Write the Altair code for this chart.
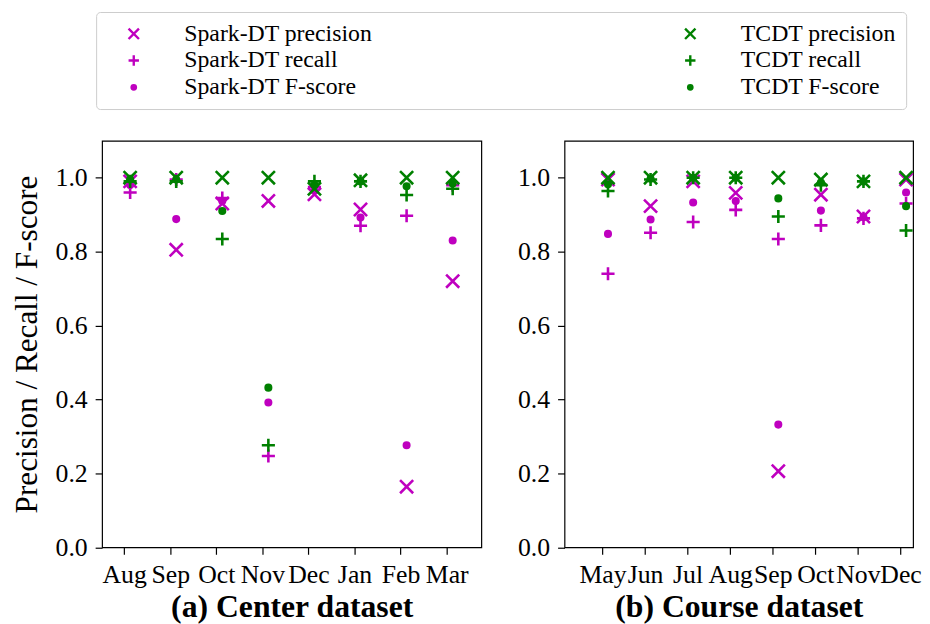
import json
import altair as alt
import pandas as pd

# ---------------- data ----------------
center_months = ["Aug", "Sep", "Oct", "Nov", "Dec", "Jan", "Feb", "Mar"]
center_spark_precision = [0.99, 0.805, 0.93, 0.937, 0.955, 0.914, 0.164, 0.72]
center_spark_recall = [0.96, 0.995, 0.945, 0.247, 0.975, 0.87, 0.897, 0.98]
center_spark_fscore = [0.98, 0.888, 0.937, 0.392, 0.965, 0.892, 0.276, 0.83]
center_tcdt_precision = [1.0, 1.0, 1.0, 1.0, 0.97, 0.993, 1.0, 1.0]
center_tcdt_recall = [0.99, 0.99, 0.834, 0.276, 0.99, 0.99, 0.953, 0.97]
center_tcdt_fscore = [0.995, 0.995, 0.91, 0.432, 0.98, 0.99, 0.977, 0.984]

course_months = ["May", "Jun", "Jul", "Aug", "Sep", "Oct", "Nov", "Dec"]
course_spark_precision = [0.995, 0.923, 0.99, 0.959, 0.206, 0.954, 0.895, 0.995]
course_spark_recall = [0.74, 0.851, 0.88, 0.913, 0.834, 0.871, 0.89, 0.93]
course_spark_fscore = [0.848, 0.887, 0.933, 0.937, 0.332, 0.911, 0.893, 0.96]
course_tcdt_precision = [1.0, 1.0, 1.0, 1.0, 1.0, 0.995, 0.99, 1.0]
course_tcdt_recall = [0.964, 0.995, 1.0, 1.0, 0.895, 0.98, 0.99, 0.857]
course_tcdt_fscore = [0.982, 0.997, 1.0, 1.0, 0.944, 0.987, 0.99, 0.923]

series_names = ["Spark-DT precision", "Spark-DT recall", "Spark-DT F-score",
                "TCDT precision", "TCDT recall", "TCDT F-score"]

MAG = "#bf00bf"
GRN = "#008000"
X_PATH = "M-1,-1L1,1M-1,1L1,-1"
PLUS_PATH = "M-1,0L1,0M0,-1L0,1"
DOT_PATH = "M0.42,0A0.42,0.42,0,1,1,-0.42,0A0.42,0.42,0,1,1,0.42,0Z"

FONT = "Liberation Serif"
TICK_SHIFT = 0.13


def long_frame(months, sp, sr, sf, tp, tr, tf):
    rows = []
    for name, vals in zip(series_names, [sp, sr, sf, tp, tr, tf]):
        for i, (m, v) in enumerate(zip(months, vals)):
            rows.append({"series": name, "idx": i, "month": m, "value": v})
    return pd.DataFrame(rows)


center_df = long_frame(center_months, center_spark_precision, center_spark_recall,
                       center_spark_fscore, center_tcdt_precision,
                       center_tcdt_recall, center_tcdt_fscore)
course_df = long_frame(course_months, course_spark_precision, course_spark_recall,
                       course_spark_fscore, course_tcdt_precision,
                       course_tcdt_recall, course_tcdt_fscore)

color_scale = alt.Scale(domain=series_names, range=[MAG, MAG, MAG, GRN, GRN, GRN])
shape_scale = alt.Scale(domain=series_names,
                        range=[X_PATH, PLUS_PATH, DOT_PATH, X_PATH, PLUS_PATH, DOT_PATH])
fill_scale = alt.Scale(domain=series_names,
                       range=["transparent", "transparent", MAG,
                              "transparent", "transparent", GRN])


def panel(df, months, xdomain, xtitle, ytitle, width):
    tick_vals = [i - TICK_SHIFT for i in range(len(months))]
    label_expr = f"{json.dumps(months)}[round(datum.value + {TICK_SHIFT})]"
    yaxis = alt.Axis(values=[0, 0.2, 0.4, 0.6, 0.8, 1.0], format=".1f",
                     title=ytitle)
    return alt.Chart(df).mark_point(
        filled=False, size=175, strokeWidth=2.6, opacity=1
    ).encode(
        x=alt.X("idx:Q",
                scale=alt.Scale(domain=xdomain, nice=False, zero=False),
                axis=alt.Axis(values=tick_vals, labelExpr=label_expr,
                              labelOverlap=False,
                              title=xtitle, titleFontWeight="bold",
                              titleFontSize=32)),
        y=alt.Y("value:Q", scale=alt.Scale(domain=[0, 1.1], nice=False, zero=False),
                axis=yaxis),
        color=alt.Color("series:N", scale=color_scale, legend=alt.Legend(title=None)),
        shape=alt.Shape("series:N", scale=shape_scale, legend=alt.Legend(title=None)),
        fill=alt.Fill("series:N", scale=fill_scale, legend=alt.Legend(title=None)),
    ).properties(width=width, height=410.6)


left = panel(center_df, center_months, [-0.609, 7.622], "(a) Center dataset",
             "Precision / Recall / F-score", 383)
right = panel(course_df, course_months, [-1.021, 7.165], "(b) Course dataset",
              None, 352)

chart = alt.hconcat(left, right, spacing=34).resolve_scale(
    color="shared", shape="shared", fill="shared"
).properties(
    padding={"left": 2, "top": 0, "right": 0, "bottom": 0}
).configure_view(
    stroke="#000000", strokeWidth=1.2
).configure_axis(
    grid=False, domain=False,
    labelFont=FONT, titleFont=FONT,
    labelFontSize=26, titleFontSize=31.5,
    labelColor="#000000", titleColor="#000000",
    tickColor="#000000", tickSize=7, tickWidth=1.2,
    labelPadding=8, titleFontWeight="normal"
).configure_axisX(
    titlePadding=4
).configure_axisY(
    titlePadding=12
).configure_legend(
    orient="none", legendX=-6, legendY=-130, columns=2,
    columnPadding=293, rowPadding=3, padding=10,
    strokeColor="#cccccc", cornerRadius=4, fillColor="#ffffff",
    labelFont=FONT, labelFontSize=24, labelColor="#000000", labelLimit=400,
    symbolSize=110, symbolStrokeWidth=2.4, symbolOffset=16, labelOffset=39,
)

chart.save("out.html", embed_options={"renderer": "svg", "actions": False})
